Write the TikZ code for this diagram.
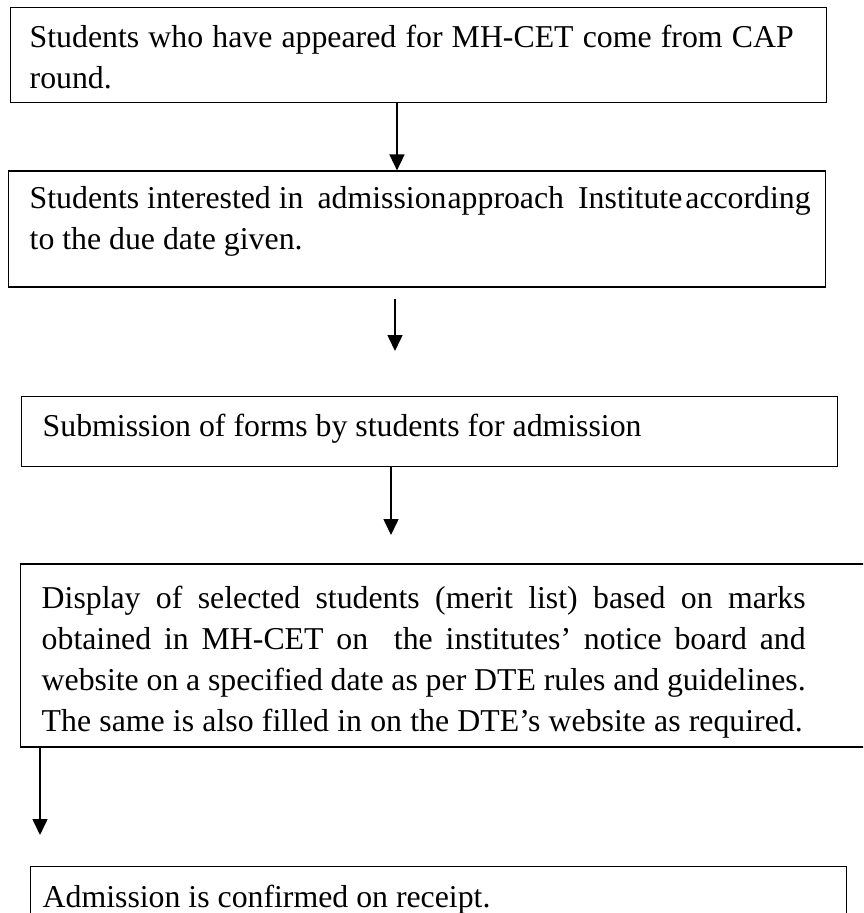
\documentclass[tikz,border=0pt]{standalone}
\usepackage{fontspec}
\setmainfont{Liberation Serif}
\usetikzlibrary{arrows.meta, positioning}

\begin{document}
\begin{tikzpicture}[
   x=1pt, y=-1pt,
   box/.style={draw, line width=1.4pt, align=flush left,
               inner ysep=0pt, font=\fontsize{31.8}{41}\selectfont},
   arr/.style={-{Triangle[length=16pt, width=15pt]}, line width=1.6pt}]

  \useasboundingbox (0,0) rectangle (863,913);
  \clip (0,0) rectangle (863,913);

  \node[box, inner xsep=19pt, text width=778pt, text height=40pt, text depth=55pt,
        anchor=north west] (cap) at (10,7)
       {\makebox[764pt][s]{Students who have appeared for MH-CET come from CAP}\\round.};

  \node[box, below=67pt of cap.south west, xshift=-2pt, inner xsep=21pt,
        text width=775pt, text height=37pt, text depth=79pt, anchor=north west] (approach)
       {\makebox[775pt][l]{\makebox[781pt][s]{Students interested in\hspace{14pt plus 1pt}admission\hspace{1pt}approach\hspace{14pt plus 1pt}Institute\hspace{3pt}according}}\\
        to the due date given.};

  \node[box, below=108pt of approach.south west, xshift=13pt, inner xsep=21pt,
        text width=774pt, text height=40pt, text depth=30pt, anchor=north west] (forms)
       {Submission of forms by students for admission};

  \node[box, below=96pt of forms.south west, xshift=-1pt, inner xsep=21pt,
        text width=830pt, text height=45pt, text depth=138pt, anchor=north west] (merit)
       {\makebox[764pt][s]{Display of selected students (merit list) based on marks}\\
        \makebox[764pt][s]{obtained in MH-CET on \ the institutes’ notice board and}\\
        \makebox[764pt][s]{website on a specified date as per DTE rules and guidelines.}\\
        \makebox[761pt][s]{The same is also filled in on the DTE’s website as required.}};

  \node[box, below=118pt of merit.south west, xshift=10pt, inner xsep=12pt,
        text width=792pt, text height=41pt, text depth=40pt, anchor=north west] (confirm)
       {Admission is confirmed on receipt.};

  \coordinate (a1) at (397,0);
  \coordinate (a2top) at (395,299);
  \coordinate (a2tip) at (395,351);
  \coordinate (a3tip) at (391,535);
  \coordinate (a4tip) at (40,835);

  \draw[arr] (cap.south -| a1) -- (approach.north -| a1);
  \draw[arr] (a2top) -- (a2tip);
  \draw[arr] (forms.south -| a3tip) -- (a3tip);
  \draw[arr] (merit.south -| a4tip) -- (a4tip);
\end{tikzpicture}
\end{document}
